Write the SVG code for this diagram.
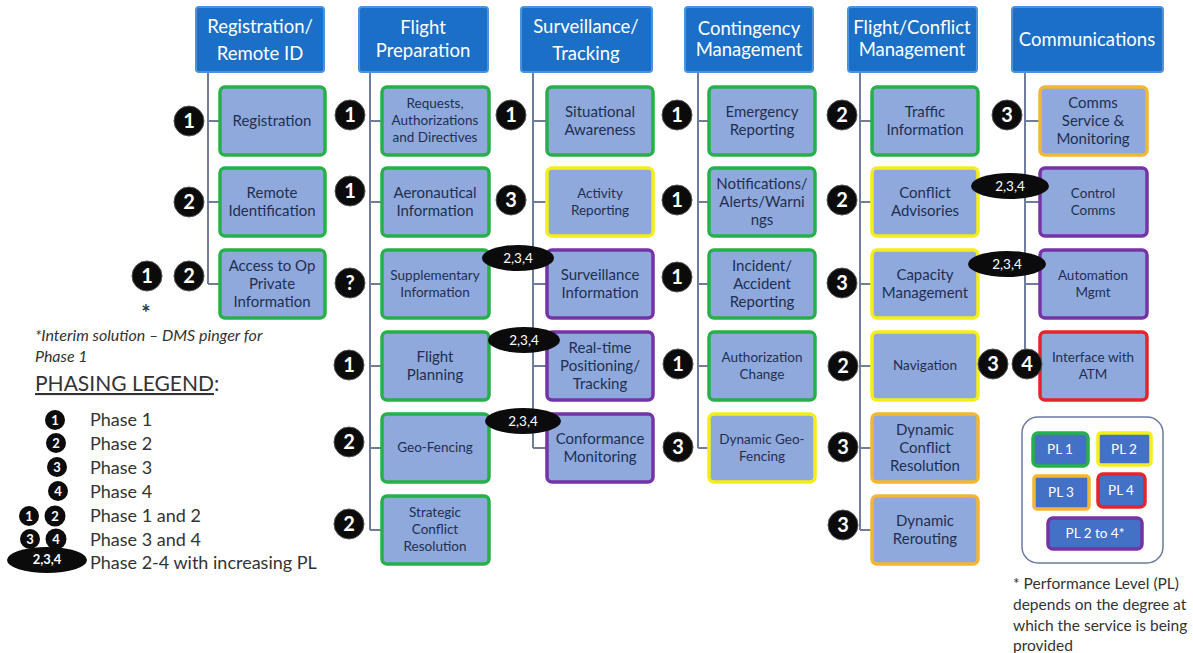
<svg xmlns="http://www.w3.org/2000/svg" width="1193" height="653" viewBox="0 0 1193 653">
<style>
.hdr{fill:#1c6fc6;stroke:#4b93dc;stroke-width:2}
.ht{font-family:Lato,"Liberation Sans",sans-serif;font-size:18.5px;fill:#fff;text-anchor:middle}
.nd{fill:#8fa9dc;stroke-width:3.5}
.g{stroke:#27b04a}.y{stroke:#f3ee17}.o{stroke:#f2b631}.p{stroke:#7434a6}.r{stroke:#e3242b}
.nt{font-family:Lato,"Liberation Sans",sans-serif;font-size:15px;fill:#1f2f50;text-anchor:middle}
.sm{font-size:13.5px}
.ln{stroke:#6f7c9a;stroke-width:2;fill:none}
.bd{fill:#0b0b0b;stroke:#555;stroke-width:1}
.bt{font-family:Lato,"Liberation Sans",sans-serif;font-size:20px;font-weight:bold;fill:#fff;text-anchor:middle}
.ov{fill:#0b0b0b}
.ot{font-family:Lato,"Liberation Sans",sans-serif;font-size:13.5px;fill:#fff;text-anchor:middle}
.lt{font-family:Lato,"Liberation Sans",sans-serif;font-size:18px;fill:#333}
.lb{fill:#0b0b0b}
.lbt{font-family:Lato,"Liberation Sans",sans-serif;font-size:13px;font-weight:bold;fill:#fff;text-anchor:middle}
.pl{fill:#4371c6;stroke-width:3.5}
.plt{font-family:Lato,"Liberation Sans",sans-serif;font-size:13.5px;fill:#fff;text-anchor:middle}
.fn{font-family:Lato,"Liberation Sans",sans-serif;font-size:15.5px;fill:#333}
</style>

<g id="connectors">
<path class="ln" d="M208 72V284M208 121H220M208 202H220M208 284H220"/>
<path class="ln" d="M370 72V530M370 121H382M370 202H382M370 284H382M370 366H382M370 448H382M370 530H382"/>
<path class="ln" d="M533 72V448M533 121H547M533 202H547M533 284H547M533 366H547M533 448H547"/>
<path class="ln" d="M698 72V448M698 121H709M698 202H709M698 284H709M698 366H709M698 448H709"/>
<path class="ln" d="M860 72V530M860 121H872M860 202H872M860 284H872M860 366H872M860 448H872M860 530H872"/>
<path class="ln" d="M1025 72V366M1025 121H1040M1025 202H1040M1025 284H1040M1025 366H1040"/>
</g>

<g id="h1"><rect class="hdr" x="196" y="7" width="128" height="65" rx="3"/><text class="ht" x="260" y="33">Registration/</text><text class="ht" x="260" y="60">Remote ID</text></g>
<g id="h2"><rect class="hdr" x="359" y="7" width="129" height="65" rx="3"/><text class="ht" x="423" y="34">Flight</text><text class="ht" x="423" y="57">Preparation</text></g>
<g id="h3"><rect class="hdr" x="521" y="7" width="131" height="65" rx="3"/><text class="ht" x="586" y="33">Surveillance/</text><text class="ht" x="586" y="60">Tracking</text></g>
<g id="h4"><rect class="hdr" x="685" y="7" width="128" height="65" rx="3"/><text class="ht" x="749" y="35">Contingency</text><text class="ht" x="749" y="56">Management</text></g>
<g id="h5"><rect class="hdr" x="848" y="7" width="129" height="65" rx="3"/><text class="ht" x="912" y="34">Flight/Conflict</text><text class="ht" x="912" y="56">Management</text></g>
<g id="h6"><rect class="hdr" x="1012" y="7" width="151" height="65" rx="3"/><text class="ht" x="1087" y="46">Communications</text></g>

<!-- Column 1 -->
<g id="n1a"><rect class="nd g" x="220" y="87" width="105" height="68" rx="5"/><text class="nt" x="272" y="126">Registration</text></g>
<g id="n1b"><rect class="nd g" x="220" y="168" width="105" height="68" rx="5"/><text class="nt" x="272" y="198">Remote</text><text class="nt" x="272" y="216">Identification</text></g>
<g id="n1c"><rect class="nd g" x="220" y="250" width="105" height="68" rx="5"/><text class="nt" x="272" y="271">Access to Op</text><text class="nt" x="272" y="289">Private</text><text class="nt" x="272" y="307">Information</text></g>

<!-- Column 2 -->
<g id="n2a"><rect class="nd g" x="382" y="87" width="107" height="68" rx="5"/><text class="nt sm" x="435" y="108">Requests,</text><text class="nt sm" x="435" y="125">Authorizations</text><text class="nt sm" x="435" y="142">and Directives</text></g>
<g id="n2b"><rect class="nd g" x="382" y="168" width="107" height="68" rx="5"/><text class="nt" x="435" y="198">Aeronautical</text><text class="nt" x="435" y="216">Information</text></g>
<g id="n2c"><rect class="nd g" x="382" y="250" width="107" height="68" rx="5"/><text class="nt sm" x="435" y="280">Supplementary</text><text class="nt sm" x="435" y="297">Information</text></g>
<g id="n2d"><rect class="nd g" x="382" y="332" width="107" height="68" rx="5"/><text class="nt" x="435" y="362">Flight</text><text class="nt" x="435" y="380">Planning</text></g>
<g id="n2e"><rect class="nd g" x="382" y="414" width="107" height="68" rx="5"/><text class="nt sm" x="435" y="452">Geo-Fencing</text></g>
<g id="n2f"><rect class="nd g" x="382" y="496" width="107" height="68" rx="5"/><text class="nt sm" x="435" y="517">Strategic</text><text class="nt sm" x="435" y="534">Conflict</text><text class="nt sm" x="435" y="551">Resolution</text></g>

<!-- Column 3 -->
<g id="n3a"><rect class="nd g" x="547" y="87" width="106" height="68" rx="5"/><text class="nt" x="600" y="117">Situational</text><text class="nt" x="600" y="135">Awareness</text></g>
<g id="n3b"><rect class="nd y" x="547" y="168" width="106" height="68" rx="5"/><text class="nt sm" x="600" y="198">Activity</text><text class="nt sm" x="600" y="215">Reporting</text></g>
<g id="n3c"><rect class="nd p" x="547" y="250" width="106" height="68" rx="5"/><text class="nt" x="600" y="280">Surveillance</text><text class="nt" x="600" y="298">Information</text></g>
<g id="n3d"><rect class="nd p" x="547" y="332" width="106" height="68" rx="5"/><text class="nt" x="600" y="353">Real-time</text><text class="nt" x="600" y="371">Positioning/</text><text class="nt" x="600" y="389">Tracking</text></g>
<g id="n3e"><rect class="nd p" x="547" y="414" width="106" height="68" rx="5"/><text class="nt" x="600" y="444">Conformance</text><text class="nt" x="600" y="462">Monitoring</text></g>

<!-- Column 4 -->
<g id="n4a"><rect class="nd g" x="709" y="87" width="106" height="68" rx="5"/><text class="nt" x="762" y="117">Emergency</text><text class="nt" x="762" y="135">Reporting</text></g>
<g id="n4b"><rect class="nd g" x="709" y="168" width="106" height="68" rx="5"/><text class="nt" x="762" y="189">Notifications/</text><text class="nt" x="762" y="207">Alerts/Warni</text><text class="nt" x="762" y="225">ngs</text></g>
<g id="n4c"><rect class="nd g" x="709" y="250" width="106" height="68" rx="5"/><text class="nt" x="762" y="271">Incident/</text><text class="nt" x="762" y="289">Accident</text><text class="nt" x="762" y="307">Reporting</text></g>
<g id="n4d"><rect class="nd g" x="709" y="332" width="106" height="68" rx="5"/><text class="nt sm" x="762" y="362">Authorization</text><text class="nt sm" x="762" y="379">Change</text></g>
<g id="n4e"><rect class="nd y" x="709" y="414" width="106" height="68" rx="5"/><text class="nt sm" x="762" y="444">Dynamic Geo-</text><text class="nt sm" x="762" y="461">Fencing</text></g>

<!-- Column 5 -->
<g id="n5a"><rect class="nd g" x="872" y="87" width="106" height="68" rx="5"/><text class="nt" x="925" y="117">Traffic</text><text class="nt" x="925" y="135">Information</text></g>
<g id="n5b"><rect class="nd y" x="872" y="168" width="106" height="68" rx="5"/><text class="nt" x="925" y="198">Conflict</text><text class="nt" x="925" y="216">Advisories</text></g>
<g id="n5c"><rect class="nd y" x="872" y="250" width="106" height="68" rx="5"/><text class="nt" x="925" y="280">Capacity</text><text class="nt" x="925" y="298">Management</text></g>
<g id="n5d"><rect class="nd y" x="872" y="332" width="106" height="68" rx="5"/><text class="nt sm" x="925" y="370">Navigation</text></g>
<g id="n5e"><rect class="nd o" x="872" y="414" width="106" height="68" rx="5"/><text class="nt" x="925" y="435">Dynamic</text><text class="nt" x="925" y="453">Conflict</text><text class="nt" x="925" y="471">Resolution</text></g>
<g id="n5f"><rect class="nd o" x="872" y="496" width="106" height="68" rx="5"/><text class="nt" x="925" y="526">Dynamic</text><text class="nt" x="925" y="544">Rerouting</text></g>

<!-- Column 6 -->
<g id="n6a"><rect class="nd o" x="1040" y="87" width="107" height="68" rx="5"/><text class="nt" x="1093" y="108">Comms</text><text class="nt" x="1093" y="126">Service &amp;</text><text class="nt" x="1093" y="144">Monitoring</text></g>
<g id="n6b"><rect class="nd p" x="1040" y="168" width="107" height="68" rx="5"/><text class="nt sm" x="1093" y="198">Control</text><text class="nt sm" x="1093" y="215">Comms</text></g>
<g id="n6c"><rect class="nd p" x="1040" y="250" width="107" height="68" rx="5"/><text class="nt sm" x="1093" y="280">Automation</text><text class="nt sm" x="1093" y="297">Mgmt</text></g>
<g id="n6d"><rect class="nd r" x="1040" y="332" width="107" height="68" rx="5"/><text class="nt sm" x="1093" y="362">Interface with</text><text class="nt sm" x="1093" y="379">ATM</text></g>

<!-- Phase badges -->
<g id="badges">
<circle class="bd" cx="189" cy="121" r="15"/><text class="bt" x="189" y="128">1</text>
<circle class="bd" cx="189" cy="202" r="15"/><text class="bt" x="189" y="209">2</text>
<circle class="bd" cx="147" cy="276" r="15"/><text class="bt" x="147" y="283">1</text>
<circle class="bd" cx="189" cy="276" r="15"/><text class="bt" x="189" y="283">2</text>
<circle class="bd" cx="350" cy="115" r="15"/><text class="bt" x="350" y="122">1</text>
<circle class="bd" cx="350" cy="191" r="15"/><text class="bt" x="350" y="198">1</text>
<circle class="bd" cx="350" cy="283" r="15"/><text class="bt" x="350" y="290">?</text>
<circle class="bd" cx="349" cy="365" r="15"/><text class="bt" x="349" y="372">1</text>
<circle class="bd" cx="349" cy="442" r="15"/><text class="bt" x="349" y="449">2</text>
<circle class="bd" cx="349" cy="524" r="15"/><text class="bt" x="349" y="531">2</text>
<circle class="bd" cx="511" cy="115" r="15"/><text class="bt" x="511" y="122">1</text>
<circle class="bd" cx="511" cy="200" r="15"/><text class="bt" x="511" y="207">3</text>
<circle class="bd" cx="677" cy="115" r="15"/><text class="bt" x="677" y="122">1</text>
<circle class="bd" cx="677" cy="200" r="15"/><text class="bt" x="677" y="207">1</text>
<circle class="bd" cx="677" cy="277" r="15"/><text class="bt" x="677" y="284">1</text>
<circle class="bd" cx="678" cy="364" r="15"/><text class="bt" x="678" y="371">1</text>
<circle class="bd" cx="678" cy="447" r="15"/><text class="bt" x="678" y="454">3</text>
<circle class="bd" cx="842" cy="115" r="15"/><text class="bt" x="842" y="122">2</text>
<circle class="bd" cx="842" cy="200" r="15"/><text class="bt" x="842" y="207">2</text>
<circle class="bd" cx="842" cy="283" r="15"/><text class="bt" x="842" y="290">3</text>
<circle class="bd" cx="843" cy="366" r="15"/><text class="bt" x="843" y="373">2</text>
<circle class="bd" cx="843" cy="447" r="15"/><text class="bt" x="843" y="454">3</text>
<circle class="bd" cx="843" cy="525" r="15"/><text class="bt" x="843" y="532">3</text>
<circle class="bd" cx="1007" cy="115" r="15"/><text class="bt" x="1007" y="122">3</text>
<circle class="bd" cx="993" cy="364" r="15"/><text class="bt" x="993" y="371">3</text>
<circle class="bd" cx="1027" cy="364" r="15"/><text class="bt" x="1027" y="371">4</text>
<ellipse class="ov" cx="518" cy="258" rx="36" ry="13"/><text class="ot" x="518" y="263">2,3,4</text>
<ellipse class="ov" cx="524" cy="340" rx="36" ry="13"/><text class="ot" x="524" y="345">2,3,4</text>
<ellipse class="ov" cx="523" cy="421" rx="38" ry="13"/><text class="ot" x="523" y="426">2,3,4</text>
<ellipse class="ov" cx="1010" cy="186" rx="39" ry="13"/><text class="ot" x="1010" y="191">2,3,4</text>
<ellipse class="ov" cx="1007" cy="264" rx="39" ry="13"/><text class="ot" x="1007" y="269">2,3,4</text>
</g>

<!-- Left notes and legend -->
<g id="notes">
<text x="146" y="321" font-family="Lato,'Liberation Sans',sans-serif" font-size="22" font-weight="bold" fill="#333" text-anchor="middle">*</text>
<text x="35" y="341" font-family="Lato,'Liberation Sans',sans-serif" font-size="16" font-style="italic" fill="#333">*Interim solution – DMS pinger for</text>
<text x="35" y="362" font-family="Lato,'Liberation Sans',sans-serif" font-size="16" font-style="italic" fill="#333">Phase 1</text>
<text x="35" y="391" font-family="Lato,'Liberation Sans',sans-serif" font-size="21" fill="#333"><tspan text-decoration="underline">PHASING LEGEND</tspan>:</text>
</g>
<g id="legend">
<circle class="lb" cx="55" cy="420" r="10"/><text class="lbt" x="55" y="425">1</text><text class="lt" x="90" y="426">Phase 1</text>
<circle class="lb" cx="56" cy="443" r="10"/><text class="lbt" x="56" y="448">2</text><text class="lt" x="90" y="450">Phase 2</text>
<circle class="lb" cx="57" cy="467" r="10"/><text class="lbt" x="57" y="472">3</text><text class="lt" x="90" y="474">Phase 3</text>
<circle class="lb" cx="58" cy="491" r="10"/><text class="lbt" x="58" y="496">4</text><text class="lt" x="90" y="498">Phase 4</text>
<circle class="lb" cx="29" cy="516" r="10"/><text class="lbt" x="29" y="521">1</text><circle class="lb" cx="55" cy="516" r="10.5"/><text class="lbt" x="55" y="521">2</text><text class="lt" x="90" y="522">Phase 1 and 2</text>
<circle class="lb" cx="30" cy="539" r="10"/><text class="lbt" x="30" y="544">3</text><circle class="lb" cx="56" cy="539" r="10.5"/><text class="lbt" x="56" y="544">4</text><text class="lt" x="90" y="546">Phase 3 and 4</text>
<ellipse class="lb" cx="47" cy="560" rx="40" ry="13"/><text class="lbt" x="47" y="564" font-weight="normal">2,3,4</text><text class="lt" x="90" y="569">Phase 2-4 with increasing PL</text>
</g>

<!-- PL legend -->
<g id="pl-legend">
<rect x="1022" y="417" width="141" height="146" rx="16" fill="#fff" stroke="#6b7aa0" stroke-width="1.5"/>
<rect class="pl g" x="1033" y="433" width="55" height="33" rx="5"/><text class="plt" x="1060" y="454">PL 1</text>
<rect class="pl y" x="1098" y="433" width="53" height="32" rx="3"/><text class="plt" x="1124" y="454">PL 2</text>
<rect class="pl o" x="1034" y="476" width="55" height="33" rx="3"/><text class="plt" x="1061" y="497">PL 3</text>
<rect class="pl r" x="1098" y="474" width="47" height="33" rx="5"/><text class="plt" x="1121" y="495">PL 4</text>
<rect class="pl p" x="1048" y="518" width="94" height="31" rx="5"/><text class="plt" x="1095" y="538">PL 2 to 4*</text>
</g>
<g id="pl-note">
<text class="fn" x="1013" y="589">* Performance Level (PL)</text>
<text class="fn" x="1013" y="610">depends on the degree at</text>
<text class="fn" x="1013" y="631">which the service is being</text>
<text class="fn" x="1013" y="651">provided</text>
</g>
</svg>
